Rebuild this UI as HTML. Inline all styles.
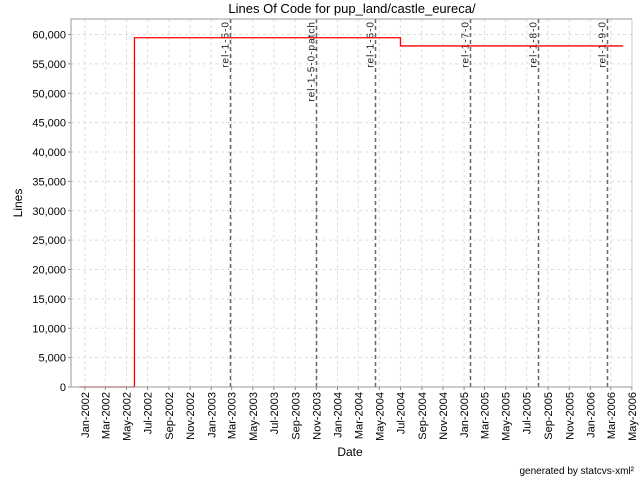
<!DOCTYPE html>
<html><head><meta charset="utf-8"><style>
body{margin:0;background:#fff;}
svg{display:block;font-family:"Liberation Sans","DejaVu Sans",sans-serif;}
</style></head><body>
<svg id="chart" width="640" height="480">
<rect width="640" height="480" fill="#fff"/>
<text x="352" y="13" font-size="13" text-anchor="middle">Lines Of Code for pup_land/castle_eureca/</text>
<g id="grid"></g><g id="marks"></g><g id="axes"></g>
<text x="350" y="456" font-size="12" text-anchor="middle">Date</text>
<text transform="translate(22,203) rotate(-90)" font-size="12" text-anchor="middle">Lines</text>
<text x="634" y="474" font-size="10" text-anchor="end">generated by statcvs-xml²</text>
</svg>
<script>
const yTicks=[0,5000,10000,15000,20000,25000,30000,35000,40000,45000,50000,55000,60000];
const xTickDates=["2002-01-01","2002-03-01","2002-05-01","2002-07-01","2002-09-01","2002-11-01","2003-01-01","2003-03-01","2003-05-01","2003-07-01","2003-09-01","2003-11-01","2004-01-01","2004-03-01","2004-05-01","2004-07-01","2004-09-01","2004-11-01","2005-01-01","2005-03-01","2005-05-01","2005-07-01","2005-09-01","2005-11-01","2006-01-01","2006-03-01","2006-05-01"];
const xTickLabels=["Jan-2002","Mar-2002","May-2002","Jul-2002","Sep-2002","Nov-2002","Jan-2003","Mar-2003","May-2003","Jul-2003","Sep-2003","Nov-2003","Jan-2004","Mar-2004","May-2004","Jul-2004","Sep-2004","Nov-2004","Jan-2005","Mar-2005","May-2005","Jul-2005","Sep-2005","Nov-2005","Jan-2006","Mar-2006","May-2006"];
const locDates=["2001-12-15","2002-05-24","2004-07-01","2006-04-06"];
const locValues=[0,59450,58050,58050];
const relNames=["rel-1-5-0","rel-1-5-0-patch","rel-1-6-0","rel-1-7-0","rel-1-8-0","rel-1-9-0"];
const relDates=["2003-02-24","2003-10-30","2004-04-18","2005-01-17","2005-08-04","2006-02-18"];

const NS="http://www.w3.org/2000/svg";
const L=71,R=632,T=19,B=387;
const t0=Date.parse("2002-01-01"),x0=85,pxPerDay=0.3459;
function xs(d){return x0+(Date.parse(d)-t0)/86400000*pxPerDay;}
function ys(v){return B-v*(352.5/60000);}
function mk(tag,attrs,parent){const e=document.createElementNS(NS,tag);for(const k in attrs)e.setAttribute(k,attrs[k]);parent.appendChild(e);return e;}
const grid=document.getElementById('grid'),marks=document.getElementById('marks'),axes=document.getElementById('axes');

yTicks.forEach((v,i)=>{
  const y=ys(v);
  if(v>0){const g=mk('line',{x1:L,x2:R,y1:y,y2:y,stroke:'#ddd','stroke-dasharray':'3,3'},grid);
  
  }
  const tk=mk('line',{x1:L-3,x2:L,y1:y,y2:y,stroke:'#888'},axes);
  
  
  const t=mk('text',{x:L-5,y:y+4,'font-size':11,'text-anchor':'end'},axes);
  t.textContent=v.toLocaleString('en-US');
  
  
});
xTickDates.forEach((d,i)=>{
  const x=xs(d);
  const g=mk('line',{x1:x,x2:x,y1:T,y2:B,stroke:'#ddd','stroke-dasharray':'3,3'},grid);
  
  
  const tk=mk('line',{x1:x,x2:x,y1:B,y2:B+3,stroke:'#888'},axes);
  
  
  const t=mk('text',{transform:`translate(${x+4},${B+5}) rotate(-90)`,'font-size':11,'text-anchor':'end'},axes);
  t.textContent=xTickLabels[i];
  
  
});
relNames.forEach((n,i)=>{
  const x=Math.round(xs(relDates[i]))+0.5;
  const l=mk('line',{x1:x,x2:x,y1:T,y2:B,stroke:'#666','stroke-width':1.5,'stroke-dasharray':'4,3'},marks);
  
  
  const t=mk('text',{transform:`translate(${x-2},${T+2}) rotate(-90)`,'font-size':10,'text-anchor':'end',fill:'#222','letter-spacing':'1'},marks);
  t.textContent=n;
  
  
});
let d='';
locDates.forEach((dt,i)=>{
  const x=xs(dt),y=ys(locValues[i]);
  if(i===0)d+=`M${x},${y}`;else d+=`H${x}V${y}`;
});
d+=`H${xs(locDates[locDates.length-1])}`;
const p=mk('path',{d:d,fill:'none',stroke:'#f00','stroke-width':1.3},marks);


const fr=mk('path',{d:`M${R},${T}H${L}V${B}H${R}`,fill:'none',stroke:'#999'},axes);


const fr2=mk('line',{x1:R,x2:R,y1:T,y2:B,stroke:'#ccc'},axes);


</script>
</body></html>
